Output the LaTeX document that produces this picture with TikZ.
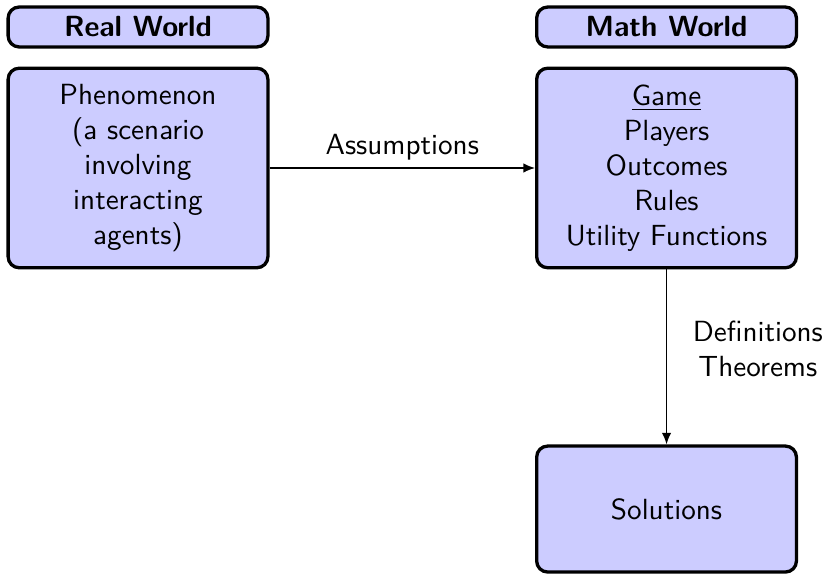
\documentclass[tikz,border=0pt]{standalone}
\usetikzlibrary{arrows.meta}
\usetikzlibrary{positioning}
\tikzset{>={Latex[length=4.2,width=3.4]}}
\colorlet{boxcol}{blue!20}
\newcommand\labelfont{\sffamily\fontsize{10.6}{12.7}\selectfont}
\tikzstyle{worldbox}=[draw,very thick,rounded corners=4,fill=boxcol,font=\labelfont\bfseries,
                      minimum width=3.32cm,minimum height=0.51cm,inner sep=0]
\tikzstyle{stagebox}=[draw,very thick,rounded corners=4,fill=boxcol,font=\labelfont,align=center,
                      minimum width=3.32cm,minimum height=2.55cm,text width=3.1cm,inner sep=0]
\tikzstyle{link}=[->,line width=0.5]

\begin{document}
\begin{tikzpicture}
  \def\W{10.544}
  \def\H{7.324}
  \def\dx{6.755}
  \useasboundingbox (0,0) rectangle (\W,-\H);
  
  % WORLDS
  \node[worldbox] (real) at (1.764,-0.345) {Real World};
  \node[worldbox] (math) at (1.764+\dx,-0.345) {Math World};
  
  % STAGES
  \node[stagebox] (phen) at (1.764,-2.147)
    {Phenomenon\\(a scenario\\involving\\interacting\\agents)};
  \node[stagebox] (game) at (1.764+\dx,-2.147)
    {\underline{Game}\\Players\\Outcomes\\Rules\\Utility Functions};
  \node[stagebox,minimum height=1.61cm] (sol) at (1.764+\dx,-6.506) {Solutions};
  
  % ARROWS
  \draw[link] (phen) -- node[above=-0.6pt,font=\labelfont] {Assumptions} (game);
  \draw[link] (game) -- node[right=6pt,yshift=3pt,font=\labelfont,align=center] {Definitions\\Theorems} (sol);
  
\end{tikzpicture}
\end{document}
